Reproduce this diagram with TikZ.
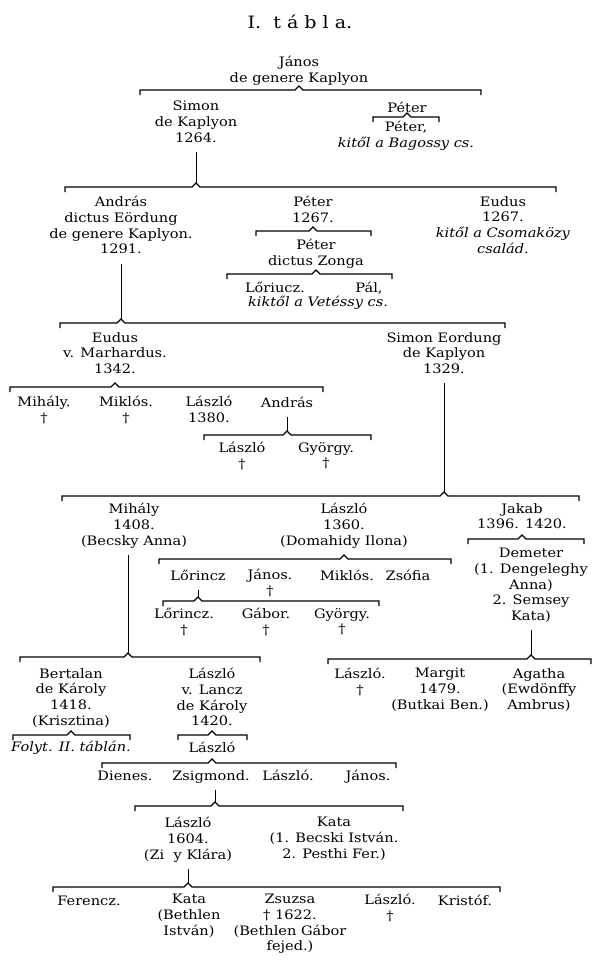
\documentclass[tikz,border=0pt]{standalone}
\usepackage{fontspec}
\setmainfont{DejaVu Serif}[FakeStretch=1.12]
\usetikzlibrary{calc}

% sibling bar: #1 peak name, #2 node giving the x of the peak, #3 left x, #4 right x, #5 bar y
\newcommand{\famline}[5]{%
  \coordinate (#1) at ($(#2 |- 0,#5)+(0,4pt)$);
  \draw[famline] (#3,#5+5) -- (#3,#5) -- ($(#1)+(-4pt,-4pt)$) -- (#1) -- ($(#1)+(4pt,-4pt)$) -- (#4,#5) -- (#4,#5+5);
}

\begin{document}
\begin{tikzpicture}[
        x=1pt, y=-1pt,
        font=\fontsize{13}{15.7}\selectfont,
        % Styles
        person/.style={align=center, inner sep=0pt, anchor=north, execute at begin node=\strut},
        note/.style={person, font=\fontsize{13}{15.7}\selectfont\itshape},
        heading/.style={inner sep=0pt, anchor=base, font=\fontsize{17}{20}\selectfont},
        famline/.style={line width=1.1pt, black, line join=miter},
        stem/.style={famline, line width=0.9pt, shorten <=5pt}
    ]
    \useasboundingbox (0,0) rectangle (603,972);

    % ================= TITLE =================
    \node[heading] (title) at (300,28) {I.\ \ t á b l a.};

    % ================= 13TH CENTURY =================
    \node[person] (janos) at (299,56) {János\\de genere Kaplyon};
    \node[person] (simon) at (196,101) {Simon\\de Kaplyon\\1264.};
    \node[person] (peterA) at (407,101) {Péter};
    \node[person] (peterB) at (406,121) {Péter,\\\textit{kitől a Bagossy cs.}};

    \node[person] (andras) at (121,196) {András\\dictus Eördung\\de genere Kaplyon.\\1291.};
    \node[person] (peterC) at (313,196) {Péter\\1267.};
    \node[person] (zonga) at (316,239) {Péter\\dictus Zonga};
    \node[person] (lorinczA) at (275,281) {Lőriucz.};
    \node[person] (pal) at (369,281) {Pál,};
    \node[note] (vetessy) at (318,295) {kiktől a Vetéssy cs.};
    \node[person] (eudusA) at (503,196) {Eudus\\1267.\\\textit{kitől a Csomaközy}\\\textit{család.}};

    % ================= 14TH CENTURY =================
    \node[person] (eudusB) at (115,332) {Eudus\\v. Marhardus.\\1342.};
    \node[person] (simonB) at (444,332) {Simon Eordung\\de Kaplyon\\1329.};
    \node[person] (mihalyA) at (44,396) {Mihály.\\†};
    \node[person] (miklosA) at (126,396) {Miklós.\\†};
    \node[person] (laszloA) at (209,396) {László\\1380.};
    \node[person] (andrasB) at (287,396) {András};
    \node[person] (laszloB) at (242,442) {László\\†};
    \node[person] (gyorgyA) at (326,442) {György.\\†};

    % ================= 15TH CENTURY =================
    \node[person] (mihalyB) at (134,503) {Mihály\\1408.\\(Becsky Anna)};
    \node[person] (laszloC) at (344,503) {László\\1360.\\(Domahidy Ilona)};
    \node[person] (jakab) at (522,503) {Jakab\\1396. 1420.};
    \node[person] (demeter) at (531,548) {Demeter\\(1. Dengeleghy\\Anna)\\2. Semsey\\Kata)};
    \node[person] (lorinczB) at (198,569) {Lőrincz};
    \node[person] (janosB) at (270,569) {János.\\†};
    \node[person] (miklosB) at (347,569) {Miklós.};
    \node[person] (zsofia) at (408,569) {Zsófia};
    \node[person] (lorinczC) at (184,608) {Lőrincz.\\†};
    \node[person] (gabor) at (266,608) {Gábor.\\†};
    \node[person] (gyorgyB) at (342,608) {György.\\†};

    \node[person] (bertalan) at (71,668) {Bertalan\\de Károly\\1418.\\(Krisztina)};
    \node[note] (folyt) at (71,740) {Folyt. II. táblán.};
    \node[person] (laszloE) at (212,668) {László\\v. Lancz\\de Károly\\1420.};
    \node[person] (laszloD) at (360,668) {László.\\†};
    \node[person] (margit) at (440,668) {Margit\\1479.\\(Butkai Ben.)};
    \node[person] (agatha) at (539,668) {Agatha\\(Ewdönffy\\Ambrus)};

    % ================= LATER LINE =================
    \node[person] (laszloF) at (212,741) {László};
    \node[person] (dienes) at (125,769) {Dienes.};
    \node[person] (zsigmond) at (211,769) {Zsigmond.};
    \node[person] (laszloG) at (288,769) {László.};
    \node[person] (janosC) at (368,769) {János.};
    \node[person] (laszloH) at (188,817) {László\\1604.\\(Zi\ \ y Klára)};
    \node[person] (kata) at (334,817) {Kata\\(1. Becski István.\\2. Pesthi Fer.)};
    \node[person] (ferencz) at (89,894) {Ferencz.};
    \node[person] (kataB) at (189,894) {Kata\\(Bethlen\\István)};
    \node[person] (zsuzsa) at (290,894) {Zsuzsa\\† 1622.\\(Bethlen Gábor\\fejed.)};
    \node[person] (laszloI) at (390,894) {László.\\†};
    \node[person] (kristof) at (465,894) {Kristóf.};

    % ================= SIBLING BARS =================
    \coordinate (s-mihalyB) at ([xshift=-6pt]mihalyB.south);
    \coordinate (s-zsigmond) at ([xshift=4pt]zsigmond.south);
    \famline{p-janos}{janos}{140}{481}{90}
    \famline{p-peterA}{peterA}{373}{439}{117}
    \famline{p-simon}{simon}{65}{556}{187}
    \famline{p-peterC}{peterC}{256}{371}{231}
    \famline{p-zonga}{zonga}{227}{392}{274}
    \famline{p-andras}{andras}{60}{505}{323}
    \famline{p-eudusB}{eudusB}{10}{323}{387}
    \famline{p-andrasB}{andrasB}{204}{371}{435}
    \famline{p-simonB}{simonB}{62}{579}{496}
    \famline{p-laszloC}{laszloC}{159}{451}{559}
    \famline{p-jakab}{jakab}{468}{584}{539}
    \famline{p-lorinczB}{lorinczB}{163}{379}{601}
    \famline{p-mihalyB}{s-mihalyB}{20}{260}{657}
    \famline{p-demeter}{demeter}{328}{591}{659}
    \famline{p-bertalan}{bertalan}{13}{130}{735}
    \famline{p-laszloE}{laszloE}{178}{247}{735}
    \famline{p-laszloF}{laszloF}{102}{396}{763}
    \famline{p-zsigmond}{s-zsigmond}{135}{403}{806}
    \famline{p-laszloH}{laszloH}{53}{500}{887}

    % ================= STEMS =================
    \draw[stem] (simon.south -| p-simon) -- (p-simon);
    \draw[stem] (andras.south -| p-andras) -- (p-andras);
    \draw[stem] (andrasB.south -| p-andrasB) -- (p-andrasB);
    \draw[stem] (simonB.south -| p-simonB) -- (p-simonB);
    \draw[stem] (s-mihalyB) -- (p-mihalyB);
    \draw[stem] (lorinczB.south -| p-lorinczB) -- (p-lorinczB);
    \draw[stem] (demeter.south -| p-demeter) -- (p-demeter);
    \draw[stem] (s-zsigmond) -- (p-zsigmond);
    \draw[stem] (laszloH.south -| p-laszloH) -- (p-laszloH);

\end{tikzpicture}
\end{document}
